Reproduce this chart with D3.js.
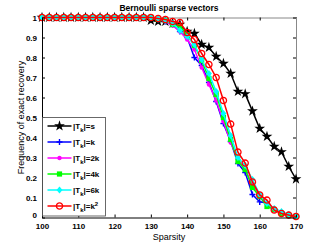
<!doctype html>
<html>
<head>
<meta charset="utf-8">
<style>
  body { margin: 0; background: #fff; }
  text { font-family: "Liberation Sans", Arial, Helvetica, sans-serif; }
</style>
</head>
<body>
<div id="chart"></div>
<script src="https://cdnjs.cloudflare.com/ajax/libs/d3/7.8.5/d3.min.js"></script>
<script>
  // sparsity values on the x axis
  var sparsity = [100, 102, 104, 106, 108, 110, 112, 114, 116, 118, 120, 122, 124, 126, 128,
                  130, 132, 134, 136, 138, 140, 142, 144, 146, 148, 150, 152, 154, 156, 158,
                  160, 162, 164, 166, 168, 170]

  var ones = [1, 1, 1, 1, 1, 1, 1, 1, 1, 1, 1, 1, 1, 1, 1]  // 100..128

  var seriesS   = ones.concat([0.985, 0.98, 0.98, 0.97, 0.965, 0.93, 0.92, 0.865, 0.85, 0.805, 0.77,
                               0.72, 0.63, 0.618, 0.532, 0.445, 0.405, 0.355, 0.328, 0.255, 0.192])
  var seriesK   = ones.concat([1, 0.99, 0.98, 0.965, 0.93, 0.90, 0.80, 0.76, 0.675, 0.58, 0.47,
                               0.38, 0.27, 0.225, 0.115, 0.078, 0.072, 0.04, 0.02, 0.01, 0.005])
  var series2K  = ones.concat([1, 0.99, 0.98, 0.96, 0.93, 0.89, 0.84, 0.75, 0.665, 0.585, 0.48,
                               0.375, 0.29, 0.24, 0.165, 0.11, 0.07, 0.04, 0.02, 0.008, 0.004])
  var series4K  = ones.concat([1, 0.99, 0.985, 0.965, 0.955, 0.915, 0.86, 0.785, 0.695, 0.615, 0.50,
                               0.39, 0.28, 0.24, 0.15, 0.105, 0.055, 0.04, 0.02, 0.01, 0.005])
  var series6K  = ones.concat([1, 0.995, 0.985, 0.97, 0.935, 0.905, 0.865, 0.79, 0.72, 0.63, 0.52,
                               0.41, 0.30, 0.26, 0.19, 0.115, 0.07, 0.045, 0.03, 0.015, 0.005])
  var seriesK2  = ones.concat([1, 0.995, 0.99, 0.98, 0.975, 0.925, 0.89, 0.82, 0.765, 0.70, 0.585,
                               0.467, 0.327, 0.272, 0.178, 0.113, 0.087, 0.037, 0.02, 0.012, 0.005])

  var xTicks = [100, 110, 120, 130, 140, 150, 160, 170]
  var yTicks = [0, 0.1, 0.2, 0.3, 0.4, 0.5, 0.6, 0.7, 0.8, 0.9, 1]

  var series = [
    { name: 's',  values: seriesS,  color: '#000000', marker: 'star' },
    { name: 'k',  values: seriesK,  color: '#0000ff', marker: 'plus' },
    { name: '2k', values: series2K, color: '#ff00ff', marker: 'dot' },
    { name: '4k', values: series4K, color: '#00ff00', marker: 'square' },
    { name: '6k', values: series6K, color: '#00ffff', marker: 'diamond' },
    { name: 'k',  values: seriesK2, color: '#ff0000', marker: 'circle', sup: '2' }
  ]

  var W = 327, H = 246
  var margin = { top: 17.5, left: 42, right: 31, bottom: 28.5 }
  var width = W - margin.left - margin.right
  var height = H - margin.top - margin.bottom

  var svg = d3.select('#chart').append('svg')
    .attr('width', W).attr('height', H)

  var g = svg.append('g')
    .attr('transform', `translate(${margin.left},${margin.top})`)

  var x = d3.scaleLinear().domain([100, 170]).range([0, width])
  var y = d3.scaleLinear().domain([0, 1]).range([height, 0])

  // axes box
  g.append('rect')
    .attr('width', width).attr('height', height)
    .attr('fill', '#fff').attr('stroke', 'none')

  var fmt = d => d === 0 || d === 1 ? String(d) : d3.format('.1f')(d)

  var xAxis = g.append('g')
    .attr('transform', `translate(0,${height})`)
    .call(d3.axisBottom(x).tickValues(xTicks).tickSizeInner(-3).tickSizeOuter(0).tickPadding(6))
  var yAxis = g.append('g')
    .call(d3.axisLeft(y).tickValues(yTicks).tickFormat(fmt).tickSizeInner(-3).tickSizeOuter(0).tickPadding(5))
  g.append('g')
    .call(d3.axisTop(x).tickValues(xTicks).tickSizeInner(-3).tickSizeOuter(0).tickFormat(''))
    .select('.domain').attr('stroke', '#888')
  g.append('g')
    .attr('transform', `translate(${width},0)`)
    .call(d3.axisRight(y).tickValues(yTicks).tickSizeInner(-3).tickSizeOuter(0).tickFormat(''))
    .select('.domain').attr('stroke', '#888')

  g.selectAll('.tick text')
    .attr('font-size', 8).attr('font-weight', 'bold')
    .attr('font-family', '"Liberation Sans", Arial, sans-serif').attr('fill', '#000')

  // the 0 label sits a bit higher in the original
  yAxis.selectAll('.tick text').filter(d => d === 0).attr('dy', '-0.05em')

  var line = d3.line()
    .x((d, i) => x(sparsity[i]))
    .y(d => y(d))

  function drawMarker(sel, type, color) {
    if (type === 'star') {
      sel.append('path')
        .attr('d', d3.symbol().type(d3.symbolStar).size(36))
        .attr('fill', color)
    } else if (type === 'plus') {
      sel.append('path')
        .attr('d', 'M-3,0H3M0,-3V3')
        .attr('stroke', color).attr('stroke-width', 1.4).attr('fill', 'none')
    } else if (type === 'dot') {
      sel.append('circle').attr('r', 2.2).attr('fill', color)
    } else if (type === 'square') {
      sel.append('rect').attr('x', -2.6).attr('y', -2.6).attr('width', 5.2).attr('height', 5.2)
        .attr('fill', color)
    } else if (type === 'diamond') {
      sel.append('path').attr('d', 'M0,-3.6L3,0L0,3.6L-3,0Z').attr('fill', color)
    } else if (type === 'circle') {
      sel.append('circle').attr('r', 3.1)
        .attr('fill', 'none').attr('stroke', color).attr('stroke-width', 1.3)
    }
  }

  series.forEach(s => {
    var sg = g.append('g')
    sg.append('path')
      .datum(s.values)
      .attr('d', line)
      .attr('fill', 'none')
      .attr('stroke', s.color)
      .attr('stroke-width', 1.5)
    sg.selectAll('g.m')
      .data(s.values)
      .enter().append('g')
      .attr('class', 'm')
      .attr('transform', (d, i) => `translate(${x(sparsity[i])},${y(d)})`)
      .each(function() { drawMarker(d3.select(this), s.marker, s.color) })
  })

  // axis lines on top
  xAxis.select('.domain').attr('stroke', '#000')
  yAxis.select('.domain').attr('stroke', '#000')
  xAxis.raise(); yAxis.raise()

  // legend
  var legend = g.append('g').attr('transform', 'translate(0.5,100)')
  legend.append('rect')
    .attr('width', 63).attr('height', 98.5)
    .attr('fill', '#fff').attr('stroke', '#444').attr('stroke-width', 0.8)

  series.forEach((s, i) => {
    var row = legend.append('g').attr('transform', `translate(0,${8.5 + i * 16})`)
    row.append('line')
      .attr('x1', 5).attr('x2', 29)
      .attr('stroke', s.color).attr('stroke-width', 1.5)
    drawMarker(row.append('g').attr('transform', 'translate(17,0)'), s.marker, s.color)
    var t = row.append('text')
      .attr('x', 30.5).attr('y', 3)
      .attr('font-size', 8).attr('font-weight', 'bold')
    t.append('tspan').text('|T')
    t.append('tspan').attr('font-size', 6).attr('dy', 2.5).text('k')
    t.append('tspan').attr('dy', -2.5).text('|=' + s.name)
    if (s.sup) t.append('tspan').attr('font-size', 6).attr('dy', -3).text(s.sup)
  })

  // title and labels
  svg.append('text')
    .attr('x', margin.left + width / 2).attr('y', 11)
    .attr('text-anchor', 'middle')
    .attr('font-size', 8.5).attr('font-weight', 'bold')
    .text('Bernoulli sparse vectors')

  svg.append('text')
    .attr('x', margin.left + width / 2).attr('y', 239.5)
    .attr('text-anchor', 'middle')
    .attr('font-size', 9)
    .text('Sparsity')

  svg.append('text')
    .attr('transform', `translate(24,${margin.top + height / 2}) rotate(-90)`)
    .attr('text-anchor', 'middle')
    .attr('font-size', 9)
    .text('Frequency of exact recovery')
</script>
</body>
</html>
